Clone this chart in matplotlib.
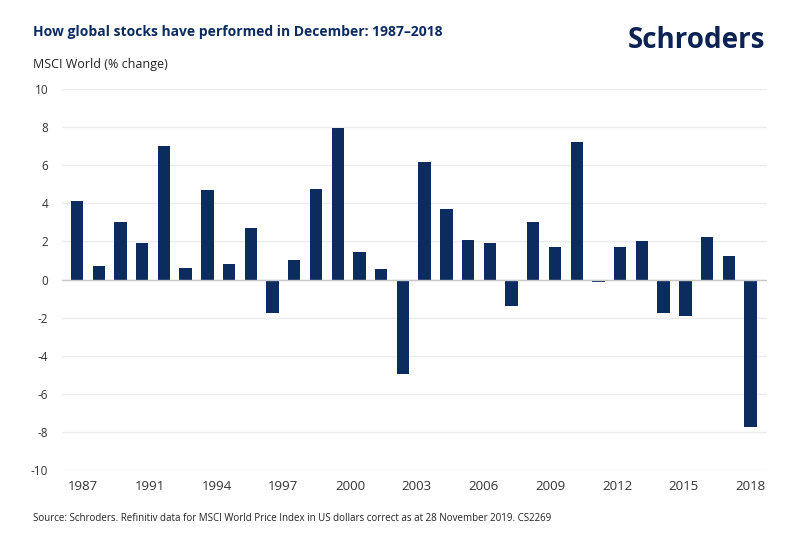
import matplotlib.pyplot as plt
import numpy as np

years = list(range(1987, 2019))
changes = [4.1, 0.7, 3.0, 1.9, 7.0, 0.6, 4.7, 0.8, 2.7, -1.75,
           1.05, 4.75, 7.95, 1.45, 0.55, -4.95, 6.15, 3.7, 2.1, 1.9,
           -1.4, 3.0, 1.7, 7.2, -0.15, 1.7, 2.0, -1.75, -1.9, 2.25,
           1.25, -7.75]
tick_labels = ['1987', '1991', '1994', '1997', '2000', '2003',
               '2006', '2009', '2012', '2015', '2018']
yticks = [-10, -8, -6, -4, -2, 0, 2, 4, 6, 8, 10]

navy = '#0c2b5e'
plt.rcParams['font.family'] = ['Open Sans', 'DejaVu Sans']

fig = plt.figure(figsize=(8, 5.36), dpi=100)
ax = fig.add_axes([0.0775, 0.123, 0.881, 0.711])

x = np.arange(len(years))
ax.bar(x, changes, width=0.57, color=navy, zorder=3)

ax.set_ylim(-10, 10)
ax.set_xlim(-0.69, 31.75)
ax.set_yticks(yticks)
ax.set_yticklabels([str(v) for v in yticks])
for v in yticks:
    ax.axhline(v, color='#ebebeb', lw=1, zorder=1)
ax.axhline(0, color='#c8c8c8', lw=1, zorder=4)

# labels are spread evenly along the axis, as in the original
ax.set_xticks(np.linspace(0.28, 31, len(tick_labels)))
ax.set_xticklabels(tick_labels)
ax.tick_params(length=0, labelcolor='#333333')
ax.tick_params(axis='y', pad=10, labelsize=8.5)
ax.tick_params(axis='x', pad=7, labelsize=9.5)
for s in ax.spines.values():
    s.set_visible(False)

fig.text(0.041, 0.94, 'How global stocks have performed in December: 1987\u20132018',
         fontsize=10, fontweight='bold', color=navy, va='center')
fig.text(0.041, 0.879, 'MSCI World (% change)', fontsize=9, color='#222222', va='center')
fig.text(0.957, 0.925, 'Schroders', fontsize=20, fontweight='bold', color='#0b2253',
         ha='right', va='center')
fig.text(0.041, 0.032,
         'Source: Schroders. Refinitiv data for MSCI World Price Index in US dollars correct as at 28 November 2019. CS2269',
         fontsize=7, color='#222222', va='center')

fig.savefig('out.png', dpi=100)
